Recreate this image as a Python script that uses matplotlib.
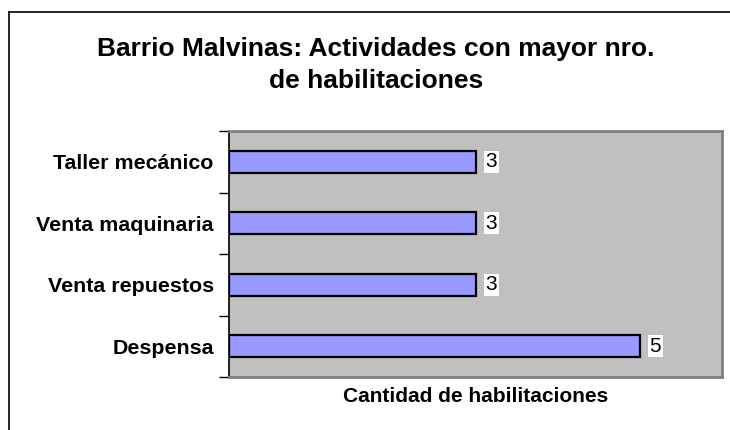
import matplotlib.pyplot as plt
from matplotlib.lines import Line2D

plt.rcParams['font.family'] = ['Liberation Sans', 'DejaVu Sans']

# Datos
actividades = ["Despensa", "Venta repuestos", "Venta maquinaria", "Taller mecánico"]
habilitaciones = [5, 3, 3, 3]
titulo = "Barrio Malvinas: Actividades con mayor nro.\nde habilitaciones"
eje_x = "Cantidad de habilitaciones"

fig = plt.figure(figsize=(7.3, 4.3), dpi=100)
ax = fig.add_axes([229/730, 1 - 377/430, (722 - 229)/730, (377 - 131)/430])

# Marco del gráfico (solo lados izquierdo y superior visibles)
fig.add_artist(Line2D([9/730, 9/730], [0, 1 - 12/430], color='black', lw=1.2))
fig.add_artist(Line2D([9/730, 1], [1 - 12/430, 1 - 12/430], color='black', lw=1.2))

ax.set_facecolor('#C0C0C0')
pos = range(len(actividades))
bars = ax.barh(pos, habilitaciones, height=0.36, color='#9999FF',
               edgecolor='black', linewidth=1.6, zorder=3)

for b, v in zip(bars, habilitaciones):
    ax.annotate(str(v), (b.get_width(), b.get_y() + b.get_height()/2),
                xytext=(7, 0), textcoords='offset points', va='center', ha='left',
                fontsize=15, zorder=4,
                bbox=dict(boxstyle='square,pad=0.08', fc='white', ec='none'))

ax.set_xlim(0, 6)
ax.set_ylim(-0.5, len(actividades) - 0.5)
ax.set_xticks([])
ax.set_yticks(list(pos))
ax.set_yticklabels(actividades, fontsize=15.4, fontweight='bold')
ax.set_yticks([i - 0.5 for i in range(len(actividades) + 1)], minor=True)
ax.tick_params(axis='y', which='major', length=0, pad=11)
ax.tick_params(axis='y', which='minor', length=7, width=1, color='black', direction='out')

for s in ['top', 'right', 'bottom']:
    ax.spines[s].set_color('#808080')
    ax.spines[s].set_linewidth(2)
ax.spines['left'].set_color('black')
ax.spines['left'].set_linewidth(1.2)

ax.set_xlabel(eje_x, fontsize=15, fontweight='bold', labelpad=7)
fig.text(376/730, 1 - 65/430, titulo, ha='center', va='center',
         fontsize=19, fontweight='bold', linespacing=1.4)

fig.savefig('out.png', dpi=100)
